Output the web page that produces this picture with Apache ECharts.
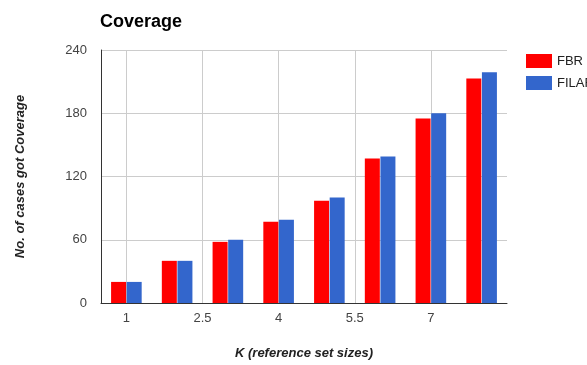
<!DOCTYPE html>
<html><head><meta charset="utf-8">
<script src="https://cdn.jsdelivr.net/npm/echarts@6/dist/echarts.min.js"></script>
<style>html,body{margin:0;padding:0;background:#fff}#c{width:587px;height:365px}</style>
</head><body><div id="c"></div>
<script>
const kValues = [1, 2, 3, 4, 5, 6, 7, 8];
const fbr = [20, 40, 58, 77, 97, 137, 175, 213];
const filar = [20, 40, 60, 79, 100, 139, 180, 219];
const xTickLabels = [1, 2.5, 4, 5.5, 7];
const yTicks = [0, 60, 120, 180, 240];

const chart = echarts.init(document.getElementById('c'), null, {renderer: 'canvas'});
const font = 'Arial, "Liberation Sans", sans-serif';
chart.setOption({
  animation: false,
  textStyle: {fontFamily: font},
  title: {
    text: 'Coverage', left: 95, top: 8,
    textStyle: {fontSize: 18, fontWeight: 'bold', color: '#000', fontFamily: font}
  },
  legend: {
    orient: 'vertical', left: 521, top: 49, itemWidth: 26, itemHeight: 14, itemGap: 8,
    icon: 'rect',
    textStyle: {fontSize: 13, color: '#222', fontFamily: font},
    data: ['FBR', 'FILAR']
  },
  grid: {left: 101, right: 80, top: 50, bottom: 60},
  xAxis: {
    type: 'value', min: 0.5, max: 8.5,
    name: 'K (reference set sizes)', nameLocation: 'middle', nameGap: 44,
    nameTextStyle: {fontSize: 13, fontWeight: 'bold', fontStyle: 'italic', color: '#222', fontFamily: font},
    axisLine: {show: true, lineStyle: {color: '#333', width: 1}},
    axisTick: {show: false, customValues: xTickLabels},
    axisLabel: {customValues: xTickLabels, color: '#444', fontSize: 13, margin: 9, fontFamily: font},
    splitLine: {show: true, lineStyle: {color: '#ccc', width: 1}}
  },
  yAxis: {
    type: 'value', min: yTicks[0], max: yTicks[yTicks.length - 1], interval: 60,
    name: 'No. of cases got Coverage', nameLocation: 'middle', nameGap: 74,
    nameTextStyle: {fontSize: 13, fontWeight: 'bold', fontStyle: 'italic', color: '#222', fontFamily: font},
    axisLine: {show: true, lineStyle: {color: '#333', width: 1}},
    axisTick: {show: false},
    axisLabel: {color: '#444', fontSize: 13, margin: 14, fontFamily: font},
    splitLine: {show: true, lineStyle: {color: '#ccc', width: 1}}
  },
  series: [
    {name: 'FBR', type: 'bar', barWidth: 15, barGap: '4%', itemStyle: {color: '#ff0000'},
     data: kValues.map((k, i) => [k, fbr[i]])},
    {name: 'FILAR', type: 'bar', barWidth: 15, barGap: '4%', itemStyle: {color: '#3366cc'},
     data: kValues.map((k, i) => [k, filar[i]])}
  ]
});
</script></body></html>
